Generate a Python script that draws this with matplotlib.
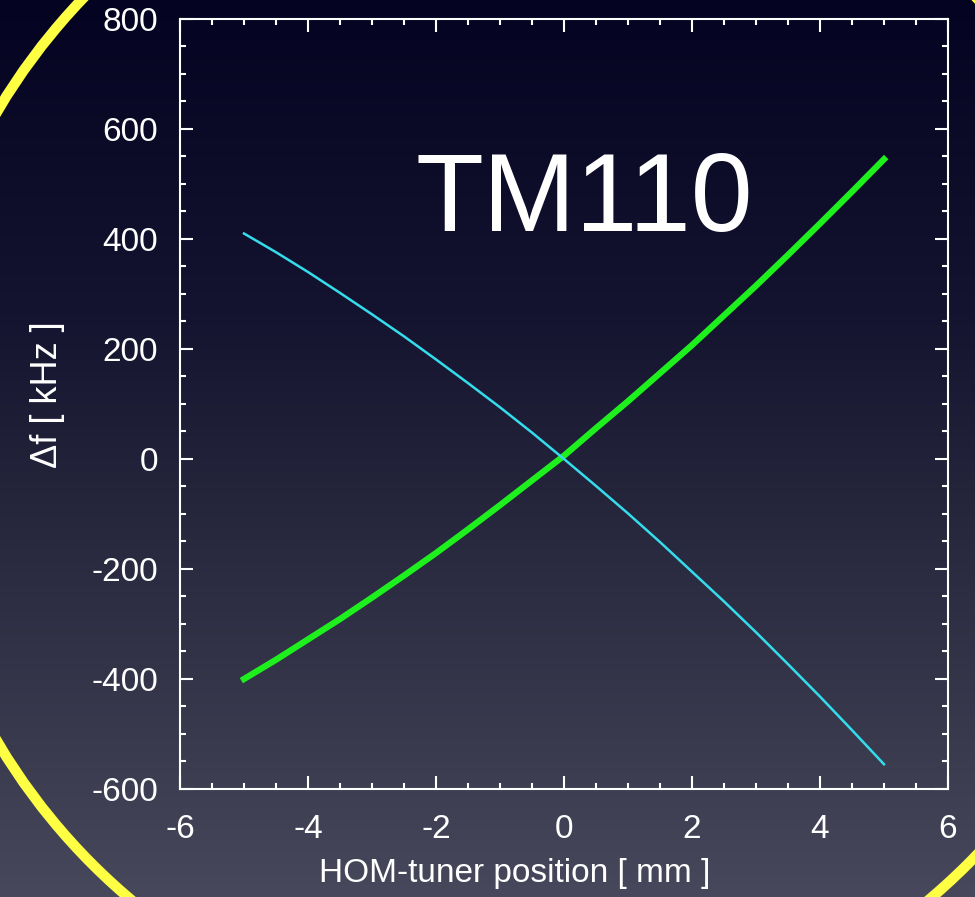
import numpy as np
import matplotlib
matplotlib.use('Agg')
import matplotlib.pyplot as plt
from matplotlib.patches import Circle
from matplotlib.ticker import MultipleLocator

plt.rcParams['font.family'] = ['Liberation Sans', 'DejaVu Sans']
plt.rcParams['axes.unicode_minus'] = False

# tuner position (mm) and frequency shift (kHz)
pos = [-5, -4.5, -4, -3.5, -3, -2.5, -2, -1.5, -1, -0.5, 0,
       0.5, 1, 1.5, 2, 2.5, 3, 3.5, 4, 4.5, 5]
df_green = [-400, -365, -328, -291, -252, -212, -171, -128, -84, -39, 6,
            56, 105, 156, 207, 261, 315, 371, 428, 486, 545]
df_cyan = [410, 376, 340, 302, 263, 223, 181, 138, 94, 48, 0,
           -49, -99, -151, -205, -259, -315, -373, -432, -493, -555]

xticks = [-6, -4, -2, 0, 2, 4, 6]
yticks = [-600, -400, -200, 0, 200, 400, 600, 800]

W, H = 975, 897
fig = plt.figure(figsize=(W / 100, H / 100), dpi=100)

# slide background: dark navy fading to grey-blue, yellow ring
bg = fig.add_axes([0, 0, 1, 1])
stops = np.array([0.0, 0.35, 0.6, 1.0])
cols = np.array([[4, 3, 33], [20, 20, 48], [40, 40, 62], [72, 72, 92]]) / 255.
t = np.linspace(0, 1, H)
grad = np.stack([np.interp(t, stops, cols[:, i]) for i in range(3)], axis=-1)
bg.imshow(grad[:, None, :], extent=[0, W, H, 0], aspect='auto')
bg.add_patch(Circle((530, 426.5), 619, fill=False, ec='#ffff44', lw=7.5))
bg.set_xlim(0, W)
bg.set_ylim(H, 0)
bg.axis('off')

ax = fig.add_axes([180 / W, 1 - 789 / H, 768 / W, 770 / H])
ax.set_facecolor('none')
ax.plot(pos, df_green, color='#1ef01e', lw=4.5)
ax.plot(pos, df_cyan, color='#34dcec', lw=1.8)

ax.set_xlim(-6, 6)
ax.set_ylim(-600, 800)
ax.set_xticks(xticks)
ax.set_yticks(yticks)
ax.xaxis.set_minor_locator(MultipleLocator(0.5))
ax.yaxis.set_minor_locator(MultipleLocator(50))

for s in ax.spines.values():
    s.set_color('white')
    s.set_linewidth(1.5)
ax.tick_params(which='both', direction='in', top=True, right=True,
               color='white', width=1.5, labelcolor='white', labelsize=24)
ax.tick_params(which='major', length=9.5)
ax.tick_params(which='minor', length=4.5)
ax.tick_params(axis='x', which='major', pad=18)
ax.tick_params(axis='y', which='major', pad=16)

ax.set_xlabel('HOM-tuner position [ mm ]', color='white', fontsize=24)
ax.xaxis.set_label_coords(0.436, -0.09)
ax.set_ylabel('Δf [ kHz ]', color='white', fontsize=26)
ax.yaxis.set_label_coords(-0.15, 0.512)

ax.text(0.31, 414, 'TM110', color='white', fontsize=80,
        ha='center', va='baseline')

fig.savefig('out.png', dpi=100)
